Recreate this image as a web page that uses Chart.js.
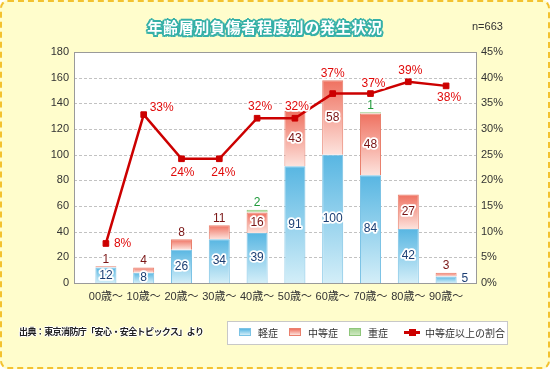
<!DOCTYPE html>
<html lang="ja">
<head>
<meta charset="UTF-8">
<title>年齢層別負傷者程度別の発生状況</title>
<script src="https://cdn.jsdelivr.net/npm/chart.js"></script>
<style>
    body { margin: 0; background: #fff; font-family: "Liberation Sans", "Noto Sans CJK JP", sans-serif; }
    .panel { position: relative; width: 550px; height: 369px; }
    /* yellow card with dashed edge */
    .card {
        position: absolute; left: 0; top: 0; width: 546px; height: 365px;
        border: 2px dashed #f3c230; border-radius: 8px; background: #fffdcc;
    }
    .chart-box { position: absolute; left: 0; top: 0; width: 550px; height: 369px; }
    .title {
        position: absolute; left: 0; top: 17px; width: 530px; text-align: center;
        font: bold 15px "Noto Sans CJK JP", sans-serif; letter-spacing: 0.7px; color: #fff;
        line-height: 20px;
        text-shadow: 2px 0 0 #36b0a8, -2px 0 0 #36b0a8, 0 2px 0 #36b0a8, 0 -2px 0 #36b0a8,
                     1.5px 1.5px 0 #36b0a8, -1.5px 1.5px 0 #36b0a8, 1.5px -1.5px 0 #36b0a8, -1.5px -1.5px 0 #36b0a8;
    }
    .count { position: absolute; left: 472px; top: 19px; font-size: 11px; color: #333; line-height: 14px; }
    .source {
        position: absolute; left: 19px; top: 325px; font: bold 9px "Noto Sans CJK JP", sans-serif;
        letter-spacing: -0.6px; color: #222; line-height: 14px;
        text-shadow: 1px 0 0 #fff, -1px 0 0 #fff, 0 1px 0 #fff, 0 -1px 0 #fff;
    }
    .legend {
        position: absolute; left: 227px; top: 321px; width: 279px; height: 22px;
        border: 1px solid #c8c8c8; background: #fff;
        font: 10px "Noto Sans CJK JP", sans-serif; color: #333;
    }
    .legend span { position: absolute; top: 4px; line-height: 14px; }
    .legend i { position: absolute; top: 6px; width: 12px; height: 8px; }
</style>
</head>
<body>
<div class="panel">
    <div class="card"></div>
    <div class="chart-box"><canvas id="chart"></canvas></div>
    <div class="title">年齢層別負傷者程度別の発生状況</div>
    <div class="count">n=663</div>
    <div class="source">出典：東京消防庁「安心・安全トピックス」より</div>
    <div class="legend" id="legend"></div>
</div>

<script>
    // age groups
    const ages = ['00歳～', '10歳～', '20歳～', '30歳～', '40歳～', '50歳～', '60歳～', '70歳～', '80歳～', '90歳～'];
    // injured people by severity
    const mild = [12, 8, 26, 34, 39, 91, 100, 84, 42, 5];
    const moderate = [1, 4, 8, 11, 16, 43, 58, 48, 27, 3];
    const severe = [0, 0, 0, 0, 2, 0, 0, 1, 0, 0];
    // share of moderate or worse (%)
    const ratio = [7.7, 32.8, 24.2, 24.2, 32.1, 32.1, 36.9, 36.9, 39.2, 38.4];

    const seriesNames = ['軽症', '中等症', '重症', '中等症以上の割合'];
    const countMax = 180, countStep = 20;
    const pctMax = 45, pctStep = 5;

    // where each % label sits next to its point: [dx, dy, align]
    const pctLabelPos = [
        [8, 0, 'left'], [6, -7, 'left'], [1, 14, 'center'], [4, 14, 'center'], [3, -12, 'center'],
        [2, -12, 'center'], [0, -20, 'center'], [3, -10, 'center'], [2, -11, 'center'], [3, 12, 'center']
    ];

    const barColors = [
        { top: '#58b6e2', bottom: '#d3eef8', border: '#7cc3e5', text: '#1c3f74' },
        { top: '#ef7160', bottom: '#fde3dd', border: '#e9806d', text: '#7a1515' },
        { top: '#a6d493', bottom: '#cfe9c2', border: '#8fc67b', text: '#1f9a3a' }
    ];
    const barSeries = [mild, moderate, severe];

    // vertical gradient across each segment
    function segmentFill(d) {
        return (context) => {
            const chart = context.chart;
            const y = chart.scales.y;
            if (context.type !== 'data' || !chart.chartArea || !y) return barColors[d].top;
            const i = context.dataIndex;
            let base = 0;
            for (let k = 0; k < d; k++) base += barSeries[k][i];
            const top = base + barSeries[d][i];
            const g = chart.ctx.createLinearGradient(0, y.getPixelForValue(top), 0, y.getPixelForValue(base));
            g.addColorStop(0, barColors[d].top);
            g.addColorStop(1, barColors[d].bottom);
            return g;
        };
    }

    // plot box, white fill and dashed grid (box is wider than the category range)
    const framePlugin = {
        id: 'frame',
        beforeDatasetsDraw(chart) {
            const { ctx, chartArea: a, scales } = chart;
            const y = scales.y;
            const l = a.left - 13, r = a.right + 11;
            const t = Math.round(y.getPixelForValue(countMax)), b = Math.round(y.getPixelForValue(0));
            ctx.save();
            ctx.fillStyle = '#fff';
            ctx.fillRect(l, t, r - l, b - t);
            ctx.strokeStyle = '#c2c2c2';
            ctx.lineWidth = 1;
            ctx.setLineDash([3, 2]);
            y.ticks.forEach(tk => {
                if (tk.value <= 0 || tk.value >= countMax) return;
                const py = Math.round(y.getPixelForValue(tk.value)) + 0.5;
                ctx.beginPath(); ctx.moveTo(l, py); ctx.lineTo(r, py); ctx.stroke();
            });
            ctx.setLineDash([]);
            ctx.strokeStyle = '#9a9a9a';
            ctx.strokeRect(l + 0.5, t + 0.5, r - l, b - t);
            ctx.restore();
        }
    };

    function haloText(ctx, txt, x, y, color) {
        ctx.lineWidth = 3.5;
        ctx.lineJoin = 'round';
        ctx.strokeStyle = '#fff';
        ctx.strokeText(txt, x, y);
        ctx.fillStyle = color;
        ctx.fillText(txt, x, y);
    }

    // value labels on bars and % labels on the line
    const labelPlugin = {
        id: 'labels',
        afterDatasetsDraw(chart) {
            const { ctx } = chart;
            const y = chart.scales.y;
            ctx.save();
            ctx.font = '12px "Liberation Sans", sans-serif';
            ctx.textBaseline = 'middle';
            for (let i = 0; i < ages.length; i++) {
                const bar = chart.getDatasetMeta(0).data[i];
                const total = mild[i] + moderate[i] + severe[i];
                const stackTop = y.getPixelForValue(total);
                let base = 0;
                barSeries.forEach((vals, d) => {
                    const v = vals[i];
                    if (!v) return;
                    const y0 = y.getPixelForValue(base), y1 = y.getPixelForValue(base + v);
                    base += v;
                    const h = y0 - y1;
                    ctx.textAlign = 'center';
                    if (d === 0 && h < 9) {
                        ctx.textAlign = 'left';
                        ctx.fillStyle = barColors[d].text;
                        ctx.fillText(String(v), bar.x + bar.width / 2 + 5, (y0 + y1) / 2 - 1);
                    } else if (h >= 9 && (d === 0 || h >= 18)) {
                        haloText(ctx, String(v), bar.x, (y0 + y1) / 2, barColors[d].text);
                    } else {
                        haloText(ctx, String(v), bar.x, stackTop - 7, barColors[d].text);
                    }
                });
            }
            const pts = chart.getDatasetMeta(3).data;
            ctx.font = '12px "Liberation Sans", sans-serif';
            pts.forEach((p, i) => {
                const [dx, dy, align] = pctLabelPos[i];
                ctx.textAlign = align;
                haloText(ctx, Math.round(ratio[i]) + '%', p.x + dx, p.y + dy, '#e00a0a');
            });
            ctx.restore();
        }
    };

    const tickFont = { family: '"Liberation Sans", "Noto Sans CJK JP", sans-serif', size: 11 };

    const barSets = barSeries.map((vals, d) => ({
        type: 'bar',
        label: seriesNames[d],
        data: vals.map(v => v || null),
        yAxisID: 'y',
        stack: 'count',
        order: 1,
        backgroundColor: segmentFill(d),
        borderColor: barColors[d].border,
        borderWidth: 1,
        barPercentage: 0.556,
        categoryPercentage: 1
    }));

    new Chart(document.getElementById('chart'), {
        data: {
            labels: ages,
            datasets: [...barSets, {
                type: 'line',
                label: seriesNames[3],
                data: ratio,
                yAxisID: 'y2',
                order: 0,
                borderColor: '#cc0000',
                backgroundColor: '#cc0000',
                borderWidth: 2.5,
                pointStyle: 'rect',
                pointRadius: 4,
                pointBorderWidth: 1,
                tension: 0
            }]
        },
        options: {
            responsive: true,
            maintainAspectRatio: false,
            animation: false,
            layout: { padding: { top: 52 } },
            plugins: { legend: { display: false }, tooltip: { enabled: false } },
            scales: {
                x: {
                    stacked: true,
                    grid: { display: false, drawTicks: false },
                    border: { display: false },
                    ticks: { color: '#333', font: tickFont, padding: 7, maxRotation: 0 },
                    afterFit: s => { s.height = 86; }
                },
                y: {
                    stacked: true,
                    min: 0, max: countMax,
                    grid: { display: false, drawTicks: false },
                    border: { display: false },
                    ticks: { stepSize: countStep, color: '#333', font: tickFont, padding: 18 },
                    afterFit: s => { s.width = 87; }
                },
                y2: {
                    position: 'right',
                    min: 0, max: pctMax,
                    grid: { display: false, drawTicks: false },
                    border: { display: false },
                    ticks: { stepSize: pctStep, color: '#333', font: tickFont, padding: 16, callback: v => v + '%' },
                    afterFit: s => { s.width = 85; }
                }
            }
        },
        plugins: [framePlugin, labelPlugin]
    });

    // html legend
    const legend = document.getElementById('legend');
    const slots = [[11, 30], [61, 80], [121, 140], [176, 197]];
    seriesNames.forEach((name, k) => {
        const sw = document.createElement('i');
        sw.style.left = slots[k][0] + 'px';
        if (k < 3) {
            sw.style.background = `linear-gradient(${barColors[k].top}, ${barColors[k].bottom})`;
            sw.style.border = '1px solid ' + barColors[k].border;
            sw.style.boxSizing = 'border-box';
        } else {
            sw.style.width = '16px';
            sw.style.height = '3px';
            sw.style.top = '9px';
            sw.style.background = '#cc0000';
            const dot = document.createElement('i');
            dot.style.cssText = 'left:' + (slots[k][0] + 5) + 'px;top:7px;width:7px;height:7px;background:#cc0000;';
            legend.appendChild(dot);
        }
        legend.appendChild(sw);
        const t = document.createElement('span');
        t.style.left = slots[k][1] + 'px';
        t.textContent = name;
        legend.appendChild(t);
    });
</script>
</body>
</html>
